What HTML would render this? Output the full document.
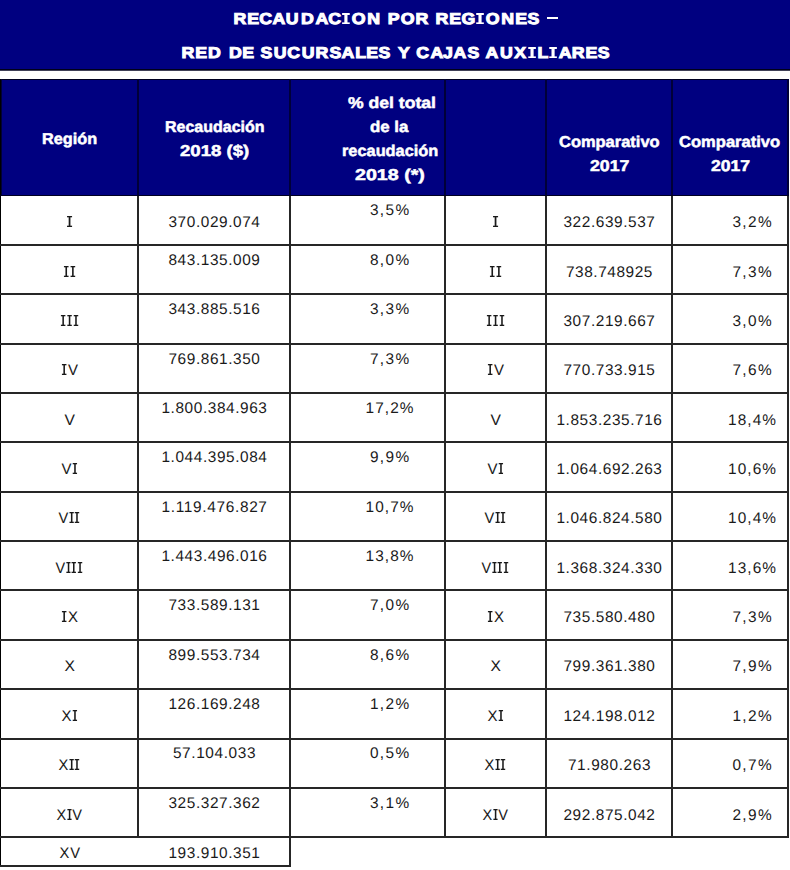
<!DOCTYPE html><html><head><meta charset="utf-8"><style>
html,body{margin:0;padding:0;background:#fff;width:790px;height:870px;overflow:hidden;position:relative;text-rendering:geometricPrecision}
.t{position:absolute;white-space:pre;transform-origin:0 0}.wb{-webkit-text-stroke:0.5px #fff}.wt{-webkit-text-stroke:1.0px #fff}
.L{position:absolute;background:#262626}
.hb{position:absolute;background:#000080}
.ri{display:inline-block;vertical-align:baseline;fill:#1a1a1a}.rv{display:inline-block;width:9.56px;text-align:center;font-weight:normal;transform:scaleX(0.9)}.tc{display:inline-block;text-align:center;transform:scaleX(1.12)}.ti{display:inline-block;vertical-align:baseline;fill:#fff}
</style></head><body>
<div class="hb" style="left:0;top:0;width:790px;height:69px"></div>
<div style="position:absolute;left:0;top:69px;width:790px;height:1px;background:#000018"></div>
<div style="position:absolute;left:0;top:70px;width:790px;height:1px;background:#404058"></div>
<div style="position:absolute;left:547px;top:17.4px;width:10.6px;height:1.8px;background:#fff"></div>
<div class="hb" style="left:0;top:79px;width:789px;height:116px"></div>
<div style="position:absolute;left:0;top:79px;width:789px;height:1px;background:#000022"></div>
<div class="L" style="left:137px;top:79px;width:2px;height:759.22px;background:#262626"></div>
<div class="L" style="left:289px;top:79px;width:2px;height:759.22px;background:#262626"></div>
<div class="L" style="left:444px;top:79px;width:2px;height:759.22px;background:#262626"></div>
<div class="L" style="left:545.3px;top:79px;width:2px;height:759.22px;background:#262626"></div>
<div class="L" style="left:670.8px;top:79px;width:2px;height:759.22px;background:#262626"></div>
<div class="L" style="left:787px;top:79px;width:2px;height:759.22px;background:#262626"></div>
<div style="position:absolute;left:0px;top:79px;width:2px;height:116px;background:#000038"></div>
<div style="position:absolute;left:137px;top:79px;width:2px;height:116px;background:#000038"></div>
<div style="position:absolute;left:289px;top:79px;width:2px;height:116px;background:#000038"></div>
<div style="position:absolute;left:444px;top:79px;width:2px;height:116px;background:#000038"></div>
<div style="position:absolute;left:545.3px;top:79px;width:2px;height:116px;background:#000038"></div>
<div style="position:absolute;left:670.8px;top:79px;width:2px;height:116px;background:#000038"></div>
<div style="position:absolute;left:787px;top:79px;width:2px;height:116px;background:#000038"></div>
<div class="L" style="left:0;top:79px;width:1px;height:788.3px;background:#000"></div>
<div style="position:absolute;left:0;top:195px;width:789px;height:1px;background:#000022"></div>
<div class="L" style="left:0;top:243.9px;width:789px;height:2px"></div>
<div class="L" style="left:0;top:293.26px;width:789px;height:2px"></div>
<div class="L" style="left:0;top:342.62px;width:789px;height:2px"></div>
<div class="L" style="left:0;top:391.98px;width:789px;height:2px"></div>
<div class="L" style="left:0;top:441.34px;width:789px;height:2px"></div>
<div class="L" style="left:0;top:490.7px;width:789px;height:2px"></div>
<div class="L" style="left:0;top:540.06px;width:789px;height:2px"></div>
<div class="L" style="left:0;top:589.42px;width:789px;height:2px"></div>
<div class="L" style="left:0;top:638.78px;width:789px;height:2px"></div>
<div class="L" style="left:0;top:688.14px;width:789px;height:2px"></div>
<div class="L" style="left:0;top:737.5px;width:789px;height:2px"></div>
<div class="L" style="left:0;top:786.86px;width:789px;height:2px"></div>
<div class="L" style="left:0;top:836.22px;width:789px;height:2px"></div>
<div class="L" style="left:289px;top:837.2199999999999px;width:2px;height:30.08px"></div>
<div class="L" style="left:0;top:865.3px;width:291px;height:2px"></div>
<div class="t wt" style="left:233.00px;top:11.90px;font-family:'Liberation Sans';font-weight:bold;font-size:15.8px;line-height:15.8px;color:#fff;letter-spacing:0.000px;transform:scale(1.0007,1.0000)"><b class="tc" style="width:13.654px">R</b><b class="tc" style="width:12.127px">E</b><b class="tc" style="width:13.050px">C</b><b class="tc" style="width:13.671px">A</b><b class="tc" style="width:14.417px">U</b><b class="tc" style="width:14.737px">D</b><b class="tc" style="width:13.671px">A</b><b class="tc" style="width:13.050px">C</b><b class="tc" style="width:9.694px"><svg class="ti" width="9.694" height="11.4" viewBox="0 0 9.694 11.4"><rect x="1.447" y="0" width="6.8" height="2.0"/><rect x="1.447" y="9.4" width="6.8" height="2.0"/><rect x="3.447" y="0" width="2.8" height="11.4"/></svg></b><b class="tc" style="width:15.092px">O</b><b class="tc" style="width:15.021px">N</b><b class="tc" style="width:6.072px"> </b><b class="tc" style="width:13.014px">P</b><b class="tc" style="width:15.092px">O</b><b class="tc" style="width:13.654px">R</b><b class="tc" style="width:6.072px"> </b><b class="tc" style="width:13.654px">R</b><b class="tc" style="width:12.127px">E</b><b class="tc" style="width:14.595px">G</b><b class="tc" style="width:9.694px"><svg class="ti" width="9.694" height="11.4" viewBox="0 0 9.694 11.4"><rect x="1.447" y="0" width="6.8" height="2.0"/><rect x="1.447" y="9.4" width="6.8" height="2.0"/><rect x="3.447" y="0" width="2.8" height="11.4"/></svg></b><b class="tc" style="width:15.092px">O</b><b class="tc" style="width:15.021px">N</b><b class="tc" style="width:12.127px">E</b><b class="tc" style="width:12.606px">S</b></div>
<div class="t wt" style="left:181.40px;top:46.00px;font-family:'Liberation Sans';font-weight:bold;font-size:15.8px;line-height:15.8px;color:#fff;letter-spacing:0.000px;transform:scale(1.0006,1.0000)"><b class="tc" style="width:13.654px">R</b><b class="tc" style="width:12.127px">E</b><b class="tc" style="width:14.737px">D</b><b class="tc" style="width:6.072px"> </b><b class="tc" style="width:14.737px">D</b><b class="tc" style="width:12.127px">E</b><b class="tc" style="width:6.072px"> </b><b class="tc" style="width:12.606px">S</b><b class="tc" style="width:14.417px">U</b><b class="tc" style="width:13.050px">C</b><b class="tc" style="width:14.417px">U</b><b class="tc" style="width:13.654px">R</b><b class="tc" style="width:12.606px">S</b><b class="tc" style="width:13.672px">A</b><b class="tc" style="width:11.292px">L</b><b class="tc" style="width:12.127px">E</b><b class="tc" style="width:12.606px">S</b><b class="tc" style="width:6.072px"> </b><b class="tc" style="width:13.512px">Y</b><b class="tc" style="width:6.072px"> </b><b class="tc" style="width:13.050px">C</b><b class="tc" style="width:13.672px">A</b><b class="tc" style="width:9.659px">J</b><b class="tc" style="width:13.672px">A</b><b class="tc" style="width:12.606px">S</b><b class="tc" style="width:6.072px"> </b><b class="tc" style="width:13.672px">A</b><b class="tc" style="width:14.417px">U</b><b class="tc" style="width:13.707px">X</b><b class="tc" style="width:9.694px"><svg class="ti" width="9.694" height="11.4" viewBox="0 0 9.694 11.4"><rect x="1.447" y="0" width="6.8" height="2.0"/><rect x="1.447" y="9.4" width="6.8" height="2.0"/><rect x="3.447" y="0" width="2.8" height="11.4"/></svg></b><b class="tc" style="width:11.292px">L</b><b class="tc" style="width:9.694px"><svg class="ti" width="9.694" height="11.4" viewBox="0 0 9.694 11.4"><rect x="1.447" y="0" width="6.8" height="2.0"/><rect x="1.447" y="9.4" width="6.8" height="2.0"/><rect x="3.447" y="0" width="2.8" height="11.4"/></svg></b><b class="tc" style="width:13.672px">A</b><b class="tc" style="width:13.654px">R</b><b class="tc" style="width:12.127px">E</b><b class="tc" style="width:12.606px">S</b></div>
<div class="t wb" style="left:42.20px;top:132.30px;font-family:'Liberation Sans';font-weight:bold;font-size:15.6px;line-height:15.6px;color:#fff;letter-spacing:0.000px;transform:scale(1.0427,1.0000)">Región</div>
<div class="t wb" style="left:164.90px;top:119.60px;font-family:'Liberation Sans';font-weight:bold;font-size:15.6px;line-height:15.6px;color:#fff;letter-spacing:0.000px;transform:scale(1.0251,1.0000)">Recaudación</div>
<div class="t wb" style="left:180.00px;top:143.60px;font-family:'Liberation Sans';font-weight:bold;font-size:15.6px;line-height:15.6px;color:#fff;letter-spacing:0.000px;transform:scale(1.1912,1.0000)">2018 ($)</div>
<div class="t wb" style="left:348.00px;top:95.70px;font-family:'Liberation Sans';font-weight:bold;font-size:15.6px;line-height:15.6px;color:#fff;letter-spacing:0.000px;transform:scale(1.1284,1.0000)">% del total</div>
<div class="t wb" style="left:370.30px;top:119.90px;font-family:'Liberation Sans';font-weight:bold;font-size:15.6px;line-height:15.6px;color:#fff;letter-spacing:0.000px;transform:scale(1.0803,1.0000)">de la</div>
<div class="t wb" style="left:341.50px;top:144.10px;font-family:'Liberation Sans';font-weight:bold;font-size:15.6px;line-height:15.6px;color:#fff;letter-spacing:0.000px;transform:scale(1.0482,1.0000)">recaudación</div>
<div class="t wb" style="left:354.70px;top:168.40px;font-family:'Liberation Sans';font-weight:bold;font-size:15.6px;line-height:15.6px;color:#fff;letter-spacing:0.000px;transform:scale(1.2598,1.0000)">2018 (*)</div>
<div class="t wb" style="left:559.10px;top:135.00px;font-family:'Liberation Sans';font-weight:bold;font-size:15.6px;line-height:15.6px;color:#fff;letter-spacing:0.000px;transform:scale(1.0553,1.0000)">Comparativo</div>
<div class="t wb" style="left:589.80px;top:158.60px;font-family:'Liberation Sans';font-weight:bold;font-size:15.6px;line-height:15.6px;color:#fff;letter-spacing:0.000px;transform:scale(1.1382,1.0000)">2017</div>
<div class="t wb" style="left:679.40px;top:135.00px;font-family:'Liberation Sans';font-weight:bold;font-size:15.6px;line-height:15.6px;color:#fff;letter-spacing:0.000px;transform:scale(1.0616,1.0000)">Comparativo</div>
<div class="t wb" style="left:710.70px;top:158.60px;font-family:'Liberation Sans';font-weight:bold;font-size:15.6px;line-height:15.6px;color:#fff;letter-spacing:0.000px;transform:scale(1.1267,1.0000)">2017</div>
<div class="t" style="left:65.75px;top:215.00px;font-family:'Liberation Sans';font-weight:normal;font-size:15.4px;line-height:15.4px;color:#1a1a1a;letter-spacing:0.000px;transform:scale(1.2052,1.0000)"><svg class="ri" width="5.9" height="11.0" viewBox="0 0 5.9 11.0"><rect x="0.85" y="0" width="4.2" height="1.3"/><rect x="0.85" y="9.7" width="4.2" height="1.3"/><rect x="2.225" y="0" width="1.45" height="11.0"/></svg></div>
<div class="t" style="left:168.46px;top:215.00px;font-family:'Liberation Sans';font-weight:normal;font-size:15.4px;line-height:15.4px;color:#1a1a1a;letter-spacing:0.589px;transform:scale(1.0000,1.0000)">370.029.074</div>
<div class="t" style="left:369.92px;top:203.00px;font-family:'Liberation Sans';font-weight:normal;font-size:15.4px;line-height:15.4px;color:#1a1a1a;letter-spacing:1.358px;transform:scale(1.0000,1.0000)">3,5%</div>
<div class="t" style="left:492.05px;top:215.00px;font-family:'Liberation Sans';font-weight:normal;font-size:15.4px;line-height:15.4px;color:#1a1a1a;letter-spacing:0.000px;transform:scale(1.2052,1.0000)"><svg class="ri" width="5.9" height="11.0" viewBox="0 0 5.9 11.0"><rect x="0.85" y="0" width="4.2" height="1.3"/><rect x="0.85" y="9.7" width="4.2" height="1.3"/><rect x="2.225" y="0" width="1.45" height="11.0"/></svg></div>
<div class="t" style="left:563.46px;top:215.00px;font-family:'Liberation Sans';font-weight:normal;font-size:15.4px;line-height:15.4px;color:#1a1a1a;letter-spacing:0.589px;transform:scale(1.0000,1.0000)">322.639.537</div>
<div class="t" style="left:732.42px;top:215.00px;font-family:'Liberation Sans';font-weight:normal;font-size:15.4px;line-height:15.4px;color:#1a1a1a;letter-spacing:1.358px;transform:scale(1.0000,1.0000)">3,2%</div>
<div class="t" style="left:62.80px;top:264.58px;font-family:'Liberation Sans';font-weight:normal;font-size:15.4px;line-height:15.4px;color:#1a1a1a;letter-spacing:0.000px;transform:scale(1.1034,1.0000)"><svg class="ri" width="5.9" height="11.0" viewBox="0 0 5.9 11.0"><rect x="0.85" y="0" width="4.2" height="1.3"/><rect x="0.85" y="9.7" width="4.2" height="1.3"/><rect x="2.225" y="0" width="1.45" height="11.0"/></svg><svg class="ri" width="5.9" height="11.0" viewBox="0 0 5.9 11.0"><rect x="0.85" y="0" width="4.2" height="1.3"/><rect x="0.85" y="9.7" width="4.2" height="1.3"/><rect x="2.225" y="0" width="1.45" height="11.0"/></svg></div>
<div class="t" style="left:168.46px;top:252.80px;font-family:'Liberation Sans';font-weight:normal;font-size:15.4px;line-height:15.4px;color:#1a1a1a;letter-spacing:0.589px;transform:scale(1.0000,1.0000)">843.135.009</div>
<div class="t" style="left:369.92px;top:252.80px;font-family:'Liberation Sans';font-weight:normal;font-size:15.4px;line-height:15.4px;color:#1a1a1a;letter-spacing:1.358px;transform:scale(1.0000,1.0000)">8,0%</div>
<div class="t" style="left:489.10px;top:264.58px;font-family:'Liberation Sans';font-weight:normal;font-size:15.4px;line-height:15.4px;color:#1a1a1a;letter-spacing:0.000px;transform:scale(1.1034,1.0000)"><svg class="ri" width="5.9" height="11.0" viewBox="0 0 5.9 11.0"><rect x="0.85" y="0" width="4.2" height="1.3"/><rect x="0.85" y="9.7" width="4.2" height="1.3"/><rect x="2.225" y="0" width="1.45" height="11.0"/></svg><svg class="ri" width="5.9" height="11.0" viewBox="0 0 5.9 11.0"><rect x="0.85" y="0" width="4.2" height="1.3"/><rect x="0.85" y="9.7" width="4.2" height="1.3"/><rect x="2.225" y="0" width="1.45" height="11.0"/></svg></div>
<div class="t" style="left:566.00px;top:264.58px;font-family:'Liberation Sans';font-weight:normal;font-size:15.4px;line-height:15.4px;color:#1a1a1a;letter-spacing:0.564px;transform:scale(1.0000,1.0000)">738.748925</div>
<div class="t" style="left:732.42px;top:264.58px;font-family:'Liberation Sans';font-weight:normal;font-size:15.4px;line-height:15.4px;color:#1a1a1a;letter-spacing:1.358px;transform:scale(1.0000,1.0000)">7,3%</div>
<div class="t" style="left:59.85px;top:313.94px;font-family:'Liberation Sans';font-weight:normal;font-size:15.4px;line-height:15.4px;color:#1a1a1a;letter-spacing:0.000px;transform:scale(1.0694,1.0000)"><svg class="ri" width="5.9" height="11.0" viewBox="0 0 5.9 11.0"><rect x="0.85" y="0" width="4.2" height="1.3"/><rect x="0.85" y="9.7" width="4.2" height="1.3"/><rect x="2.225" y="0" width="1.45" height="11.0"/></svg><svg class="ri" width="5.9" height="11.0" viewBox="0 0 5.9 11.0"><rect x="0.85" y="0" width="4.2" height="1.3"/><rect x="0.85" y="9.7" width="4.2" height="1.3"/><rect x="2.225" y="0" width="1.45" height="11.0"/></svg><svg class="ri" width="5.9" height="11.0" viewBox="0 0 5.9 11.0"><rect x="0.85" y="0" width="4.2" height="1.3"/><rect x="0.85" y="9.7" width="4.2" height="1.3"/><rect x="2.225" y="0" width="1.45" height="11.0"/></svg></div>
<div class="t" style="left:168.46px;top:302.16px;font-family:'Liberation Sans';font-weight:normal;font-size:15.4px;line-height:15.4px;color:#1a1a1a;letter-spacing:0.589px;transform:scale(1.0000,1.0000)">343.885.516</div>
<div class="t" style="left:369.92px;top:302.16px;font-family:'Liberation Sans';font-weight:normal;font-size:15.4px;line-height:15.4px;color:#1a1a1a;letter-spacing:1.358px;transform:scale(1.0000,1.0000)">3,3%</div>
<div class="t" style="left:486.15px;top:313.94px;font-family:'Liberation Sans';font-weight:normal;font-size:15.4px;line-height:15.4px;color:#1a1a1a;letter-spacing:0.000px;transform:scale(1.0694,1.0000)"><svg class="ri" width="5.9" height="11.0" viewBox="0 0 5.9 11.0"><rect x="0.85" y="0" width="4.2" height="1.3"/><rect x="0.85" y="9.7" width="4.2" height="1.3"/><rect x="2.225" y="0" width="1.45" height="11.0"/></svg><svg class="ri" width="5.9" height="11.0" viewBox="0 0 5.9 11.0"><rect x="0.85" y="0" width="4.2" height="1.3"/><rect x="0.85" y="9.7" width="4.2" height="1.3"/><rect x="2.225" y="0" width="1.45" height="11.0"/></svg><svg class="ri" width="5.9" height="11.0" viewBox="0 0 5.9 11.0"><rect x="0.85" y="0" width="4.2" height="1.3"/><rect x="0.85" y="9.7" width="4.2" height="1.3"/><rect x="2.225" y="0" width="1.45" height="11.0"/></svg></div>
<div class="t" style="left:563.46px;top:313.94px;font-family:'Liberation Sans';font-weight:normal;font-size:15.4px;line-height:15.4px;color:#1a1a1a;letter-spacing:0.589px;transform:scale(1.0000,1.0000)">307.219.667</div>
<div class="t" style="left:732.42px;top:313.94px;font-family:'Liberation Sans';font-weight:normal;font-size:15.4px;line-height:15.4px;color:#1a1a1a;letter-spacing:1.358px;transform:scale(1.0000,1.0000)">3,0%</div>
<div class="t" style="left:60.97px;top:363.30px;font-family:'Liberation Sans';font-weight:normal;font-size:15.4px;line-height:15.4px;color:#1a1a1a;letter-spacing:0.000px;transform:scale(1.0794,1.0000)"><svg class="ri" width="5.9" height="11.0" viewBox="0 0 5.9 11.0"><rect x="0.85" y="0" width="4.2" height="1.3"/><rect x="0.85" y="9.7" width="4.2" height="1.3"/><rect x="2.225" y="0" width="1.45" height="11.0"/></svg><b class="rv">V</b></div>
<div class="t" style="left:168.46px;top:351.52px;font-family:'Liberation Sans';font-weight:normal;font-size:15.4px;line-height:15.4px;color:#1a1a1a;letter-spacing:0.589px;transform:scale(1.0000,1.0000)">769.861.350</div>
<div class="t" style="left:369.92px;top:351.52px;font-family:'Liberation Sans';font-weight:normal;font-size:15.4px;line-height:15.4px;color:#1a1a1a;letter-spacing:1.358px;transform:scale(1.0000,1.0000)">7,3%</div>
<div class="t" style="left:487.27px;top:363.30px;font-family:'Liberation Sans';font-weight:normal;font-size:15.4px;line-height:15.4px;color:#1a1a1a;letter-spacing:0.000px;transform:scale(1.0794,1.0000)"><svg class="ri" width="5.9" height="11.0" viewBox="0 0 5.9 11.0"><rect x="0.85" y="0" width="4.2" height="1.3"/><rect x="0.85" y="9.7" width="4.2" height="1.3"/><rect x="2.225" y="0" width="1.45" height="11.0"/></svg><b class="rv">V</b></div>
<div class="t" style="left:563.46px;top:363.30px;font-family:'Liberation Sans';font-weight:normal;font-size:15.4px;line-height:15.4px;color:#1a1a1a;letter-spacing:0.589px;transform:scale(1.0000,1.0000)">770.733.915</div>
<div class="t" style="left:732.42px;top:363.30px;font-family:'Liberation Sans';font-weight:normal;font-size:15.4px;line-height:15.4px;color:#1a1a1a;letter-spacing:1.358px;transform:scale(1.0000,1.0000)">7,6%</div>
<div class="t" style="left:63.92px;top:412.66px;font-family:'Liberation Sans';font-weight:normal;font-size:15.4px;line-height:15.4px;color:#1a1a1a;letter-spacing:0.000px;transform:scale(1.1274,1.0000)"><b class="rv">V</b></div>
<div class="t" style="left:161.46px;top:400.88px;font-family:'Liberation Sans';font-weight:normal;font-size:15.4px;line-height:15.4px;color:#1a1a1a;letter-spacing:0.587px;transform:scale(1.0000,1.0000)">1.800.384.963</div>
<div class="t" style="left:365.47px;top:400.88px;font-family:'Liberation Sans';font-weight:normal;font-size:15.4px;line-height:15.4px;color:#1a1a1a;letter-spacing:1.106px;transform:scale(1.0000,1.0000)">17,2%</div>
<div class="t" style="left:490.22px;top:412.66px;font-family:'Liberation Sans';font-weight:normal;font-size:15.4px;line-height:15.4px;color:#1a1a1a;letter-spacing:0.000px;transform:scale(1.1274,1.0000)"><b class="rv">V</b></div>
<div class="t" style="left:556.46px;top:412.66px;font-family:'Liberation Sans';font-weight:normal;font-size:15.4px;line-height:15.4px;color:#1a1a1a;letter-spacing:0.587px;transform:scale(1.0000,1.0000)">1.853.235.716</div>
<div class="t" style="left:727.97px;top:412.66px;font-family:'Liberation Sans';font-weight:normal;font-size:15.4px;line-height:15.4px;color:#1a1a1a;letter-spacing:1.106px;transform:scale(1.0000,1.0000)">18,4%</div>
<div class="t" style="left:60.97px;top:462.02px;font-family:'Liberation Sans';font-weight:normal;font-size:15.4px;line-height:15.4px;color:#1a1a1a;letter-spacing:0.000px;transform:scale(1.0794,1.0000)"><b class="rv">V</b><svg class="ri" width="5.9" height="11.0" viewBox="0 0 5.9 11.0"><rect x="0.85" y="0" width="4.2" height="1.3"/><rect x="0.85" y="9.7" width="4.2" height="1.3"/><rect x="2.225" y="0" width="1.45" height="11.0"/></svg></div>
<div class="t" style="left:161.46px;top:450.24px;font-family:'Liberation Sans';font-weight:normal;font-size:15.4px;line-height:15.4px;color:#1a1a1a;letter-spacing:0.587px;transform:scale(1.0000,1.0000)">1.044.395.084</div>
<div class="t" style="left:369.92px;top:450.24px;font-family:'Liberation Sans';font-weight:normal;font-size:15.4px;line-height:15.4px;color:#1a1a1a;letter-spacing:1.358px;transform:scale(1.0000,1.0000)">9,9%</div>
<div class="t" style="left:487.27px;top:462.02px;font-family:'Liberation Sans';font-weight:normal;font-size:15.4px;line-height:15.4px;color:#1a1a1a;letter-spacing:0.000px;transform:scale(1.0794,1.0000)"><b class="rv">V</b><svg class="ri" width="5.9" height="11.0" viewBox="0 0 5.9 11.0"><rect x="0.85" y="0" width="4.2" height="1.3"/><rect x="0.85" y="9.7" width="4.2" height="1.3"/><rect x="2.225" y="0" width="1.45" height="11.0"/></svg></div>
<div class="t" style="left:556.46px;top:462.02px;font-family:'Liberation Sans';font-weight:normal;font-size:15.4px;line-height:15.4px;color:#1a1a1a;letter-spacing:0.587px;transform:scale(1.0000,1.0000)">1.064.692.263</div>
<div class="t" style="left:727.97px;top:462.02px;font-family:'Liberation Sans';font-weight:normal;font-size:15.4px;line-height:15.4px;color:#1a1a1a;letter-spacing:1.106px;transform:scale(1.0000,1.0000)">10,6%</div>
<div class="t" style="left:58.02px;top:511.38px;font-family:'Liberation Sans';font-weight:normal;font-size:15.4px;line-height:15.4px;color:#1a1a1a;letter-spacing:0.000px;transform:scale(1.0579,1.0000)"><b class="rv">V</b><svg class="ri" width="5.9" height="11.0" viewBox="0 0 5.9 11.0"><rect x="0.85" y="0" width="4.2" height="1.3"/><rect x="0.85" y="9.7" width="4.2" height="1.3"/><rect x="2.225" y="0" width="1.45" height="11.0"/></svg><svg class="ri" width="5.9" height="11.0" viewBox="0 0 5.9 11.0"><rect x="0.85" y="0" width="4.2" height="1.3"/><rect x="0.85" y="9.7" width="4.2" height="1.3"/><rect x="2.225" y="0" width="1.45" height="11.0"/></svg></div>
<div class="t" style="left:161.46px;top:499.60px;font-family:'Liberation Sans';font-weight:normal;font-size:15.4px;line-height:15.4px;color:#1a1a1a;letter-spacing:0.683px;transform:scale(1.0000,1.0000)">1.119.476.827</div>
<div class="t" style="left:365.47px;top:499.60px;font-family:'Liberation Sans';font-weight:normal;font-size:15.4px;line-height:15.4px;color:#1a1a1a;letter-spacing:1.106px;transform:scale(1.0000,1.0000)">10,7%</div>
<div class="t" style="left:484.32px;top:511.38px;font-family:'Liberation Sans';font-weight:normal;font-size:15.4px;line-height:15.4px;color:#1a1a1a;letter-spacing:0.000px;transform:scale(1.0579,1.0000)"><b class="rv">V</b><svg class="ri" width="5.9" height="11.0" viewBox="0 0 5.9 11.0"><rect x="0.85" y="0" width="4.2" height="1.3"/><rect x="0.85" y="9.7" width="4.2" height="1.3"/><rect x="2.225" y="0" width="1.45" height="11.0"/></svg><svg class="ri" width="5.9" height="11.0" viewBox="0 0 5.9 11.0"><rect x="0.85" y="0" width="4.2" height="1.3"/><rect x="0.85" y="9.7" width="4.2" height="1.3"/><rect x="2.225" y="0" width="1.45" height="11.0"/></svg></div>
<div class="t" style="left:556.46px;top:511.38px;font-family:'Liberation Sans';font-weight:normal;font-size:15.4px;line-height:15.4px;color:#1a1a1a;letter-spacing:0.587px;transform:scale(1.0000,1.0000)">1.046.824.580</div>
<div class="t" style="left:727.97px;top:511.38px;font-family:'Liberation Sans';font-weight:normal;font-size:15.4px;line-height:15.4px;color:#1a1a1a;letter-spacing:1.106px;transform:scale(1.0000,1.0000)">10,4%</div>
<div class="t" style="left:55.07px;top:560.74px;font-family:'Liberation Sans';font-weight:normal;font-size:15.4px;line-height:15.4px;color:#1a1a1a;letter-spacing:0.000px;transform:scale(1.0457,1.0000)"><b class="rv">V</b><svg class="ri" width="5.9" height="11.0" viewBox="0 0 5.9 11.0"><rect x="0.85" y="0" width="4.2" height="1.3"/><rect x="0.85" y="9.7" width="4.2" height="1.3"/><rect x="2.225" y="0" width="1.45" height="11.0"/></svg><svg class="ri" width="5.9" height="11.0" viewBox="0 0 5.9 11.0"><rect x="0.85" y="0" width="4.2" height="1.3"/><rect x="0.85" y="9.7" width="4.2" height="1.3"/><rect x="2.225" y="0" width="1.45" height="11.0"/></svg><svg class="ri" width="5.9" height="11.0" viewBox="0 0 5.9 11.0"><rect x="0.85" y="0" width="4.2" height="1.3"/><rect x="0.85" y="9.7" width="4.2" height="1.3"/><rect x="2.225" y="0" width="1.45" height="11.0"/></svg></div>
<div class="t" style="left:161.46px;top:548.96px;font-family:'Liberation Sans';font-weight:normal;font-size:15.4px;line-height:15.4px;color:#1a1a1a;letter-spacing:0.587px;transform:scale(1.0000,1.0000)">1.443.496.016</div>
<div class="t" style="left:365.47px;top:548.96px;font-family:'Liberation Sans';font-weight:normal;font-size:15.4px;line-height:15.4px;color:#1a1a1a;letter-spacing:1.106px;transform:scale(1.0000,1.0000)">13,8%</div>
<div class="t" style="left:481.37px;top:560.74px;font-family:'Liberation Sans';font-weight:normal;font-size:15.4px;line-height:15.4px;color:#1a1a1a;letter-spacing:0.000px;transform:scale(1.0457,1.0000)"><b class="rv">V</b><svg class="ri" width="5.9" height="11.0" viewBox="0 0 5.9 11.0"><rect x="0.85" y="0" width="4.2" height="1.3"/><rect x="0.85" y="9.7" width="4.2" height="1.3"/><rect x="2.225" y="0" width="1.45" height="11.0"/></svg><svg class="ri" width="5.9" height="11.0" viewBox="0 0 5.9 11.0"><rect x="0.85" y="0" width="4.2" height="1.3"/><rect x="0.85" y="9.7" width="4.2" height="1.3"/><rect x="2.225" y="0" width="1.45" height="11.0"/></svg><svg class="ri" width="5.9" height="11.0" viewBox="0 0 5.9 11.0"><rect x="0.85" y="0" width="4.2" height="1.3"/><rect x="0.85" y="9.7" width="4.2" height="1.3"/><rect x="2.225" y="0" width="1.45" height="11.0"/></svg></div>
<div class="t" style="left:556.46px;top:560.74px;font-family:'Liberation Sans';font-weight:normal;font-size:15.4px;line-height:15.4px;color:#1a1a1a;letter-spacing:0.587px;transform:scale(1.0000,1.0000)">1.368.324.330</div>
<div class="t" style="left:727.97px;top:560.74px;font-family:'Liberation Sans';font-weight:normal;font-size:15.4px;line-height:15.4px;color:#1a1a1a;letter-spacing:1.106px;transform:scale(1.0000,1.0000)">13,6%</div>
<div class="t" style="left:60.97px;top:610.10px;font-family:'Liberation Sans';font-weight:normal;font-size:15.4px;line-height:15.4px;color:#1a1a1a;letter-spacing:0.000px;transform:scale(1.0794,1.0000)"><svg class="ri" width="5.9" height="11.0" viewBox="0 0 5.9 11.0"><rect x="0.85" y="0" width="4.2" height="1.3"/><rect x="0.85" y="9.7" width="4.2" height="1.3"/><rect x="2.225" y="0" width="1.45" height="11.0"/></svg><b class="rv">X</b></div>
<div class="t" style="left:168.46px;top:598.32px;font-family:'Liberation Sans';font-weight:normal;font-size:15.4px;line-height:15.4px;color:#1a1a1a;letter-spacing:0.589px;transform:scale(1.0000,1.0000)">733.589.131</div>
<div class="t" style="left:369.92px;top:598.32px;font-family:'Liberation Sans';font-weight:normal;font-size:15.4px;line-height:15.4px;color:#1a1a1a;letter-spacing:1.358px;transform:scale(1.0000,1.0000)">7,0%</div>
<div class="t" style="left:487.27px;top:610.10px;font-family:'Liberation Sans';font-weight:normal;font-size:15.4px;line-height:15.4px;color:#1a1a1a;letter-spacing:0.000px;transform:scale(1.0794,1.0000)"><svg class="ri" width="5.9" height="11.0" viewBox="0 0 5.9 11.0"><rect x="0.85" y="0" width="4.2" height="1.3"/><rect x="0.85" y="9.7" width="4.2" height="1.3"/><rect x="2.225" y="0" width="1.45" height="11.0"/></svg><b class="rv">X</b></div>
<div class="t" style="left:563.46px;top:610.10px;font-family:'Liberation Sans';font-weight:normal;font-size:15.4px;line-height:15.4px;color:#1a1a1a;letter-spacing:0.589px;transform:scale(1.0000,1.0000)">735.580.480</div>
<div class="t" style="left:732.42px;top:610.10px;font-family:'Liberation Sans';font-weight:normal;font-size:15.4px;line-height:15.4px;color:#1a1a1a;letter-spacing:1.358px;transform:scale(1.0000,1.0000)">7,3%</div>
<div class="t" style="left:63.92px;top:659.46px;font-family:'Liberation Sans';font-weight:normal;font-size:15.4px;line-height:15.4px;color:#1a1a1a;letter-spacing:0.000px;transform:scale(1.1274,1.0000)"><b class="rv">X</b></div>
<div class="t" style="left:168.46px;top:647.68px;font-family:'Liberation Sans';font-weight:normal;font-size:15.4px;line-height:15.4px;color:#1a1a1a;letter-spacing:0.589px;transform:scale(1.0000,1.0000)">899.553.734</div>
<div class="t" style="left:369.92px;top:647.68px;font-family:'Liberation Sans';font-weight:normal;font-size:15.4px;line-height:15.4px;color:#1a1a1a;letter-spacing:1.358px;transform:scale(1.0000,1.0000)">8,6%</div>
<div class="t" style="left:490.22px;top:659.46px;font-family:'Liberation Sans';font-weight:normal;font-size:15.4px;line-height:15.4px;color:#1a1a1a;letter-spacing:0.000px;transform:scale(1.1274,1.0000)"><b class="rv">X</b></div>
<div class="t" style="left:563.46px;top:659.46px;font-family:'Liberation Sans';font-weight:normal;font-size:15.4px;line-height:15.4px;color:#1a1a1a;letter-spacing:0.589px;transform:scale(1.0000,1.0000)">799.361.380</div>
<div class="t" style="left:732.42px;top:659.46px;font-family:'Liberation Sans';font-weight:normal;font-size:15.4px;line-height:15.4px;color:#1a1a1a;letter-spacing:1.358px;transform:scale(1.0000,1.0000)">7,9%</div>
<div class="t" style="left:60.97px;top:708.82px;font-family:'Liberation Sans';font-weight:normal;font-size:15.4px;line-height:15.4px;color:#1a1a1a;letter-spacing:0.000px;transform:scale(1.0794,1.0000)"><b class="rv">X</b><svg class="ri" width="5.9" height="11.0" viewBox="0 0 5.9 11.0"><rect x="0.85" y="0" width="4.2" height="1.3"/><rect x="0.85" y="9.7" width="4.2" height="1.3"/><rect x="2.225" y="0" width="1.45" height="11.0"/></svg></div>
<div class="t" style="left:168.46px;top:697.04px;font-family:'Liberation Sans';font-weight:normal;font-size:15.4px;line-height:15.4px;color:#1a1a1a;letter-spacing:0.589px;transform:scale(1.0000,1.0000)">126.169.248</div>
<div class="t" style="left:369.92px;top:697.04px;font-family:'Liberation Sans';font-weight:normal;font-size:15.4px;line-height:15.4px;color:#1a1a1a;letter-spacing:1.358px;transform:scale(1.0000,1.0000)">1,2%</div>
<div class="t" style="left:487.27px;top:708.82px;font-family:'Liberation Sans';font-weight:normal;font-size:15.4px;line-height:15.4px;color:#1a1a1a;letter-spacing:0.000px;transform:scale(1.0794,1.0000)"><b class="rv">X</b><svg class="ri" width="5.9" height="11.0" viewBox="0 0 5.9 11.0"><rect x="0.85" y="0" width="4.2" height="1.3"/><rect x="0.85" y="9.7" width="4.2" height="1.3"/><rect x="2.225" y="0" width="1.45" height="11.0"/></svg></div>
<div class="t" style="left:563.46px;top:708.82px;font-family:'Liberation Sans';font-weight:normal;font-size:15.4px;line-height:15.4px;color:#1a1a1a;letter-spacing:0.589px;transform:scale(1.0000,1.0000)">124.198.012</div>
<div class="t" style="left:732.42px;top:708.82px;font-family:'Liberation Sans';font-weight:normal;font-size:15.4px;line-height:15.4px;color:#1a1a1a;letter-spacing:1.358px;transform:scale(1.0000,1.0000)">1,2%</div>
<div class="t" style="left:58.02px;top:758.18px;font-family:'Liberation Sans';font-weight:normal;font-size:15.4px;line-height:15.4px;color:#1a1a1a;letter-spacing:0.000px;transform:scale(1.0579,1.0000)"><b class="rv">X</b><svg class="ri" width="5.9" height="11.0" viewBox="0 0 5.9 11.0"><rect x="0.85" y="0" width="4.2" height="1.3"/><rect x="0.85" y="9.7" width="4.2" height="1.3"/><rect x="2.225" y="0" width="1.45" height="11.0"/></svg><svg class="ri" width="5.9" height="11.0" viewBox="0 0 5.9 11.0"><rect x="0.85" y="0" width="4.2" height="1.3"/><rect x="0.85" y="9.7" width="4.2" height="1.3"/><rect x="2.225" y="0" width="1.45" height="11.0"/></svg></div>
<div class="t" style="left:172.91px;top:746.40px;font-family:'Liberation Sans';font-weight:normal;font-size:15.4px;line-height:15.4px;color:#1a1a1a;letter-spacing:0.617px;transform:scale(1.0000,1.0000)">57.104.033</div>
<div class="t" style="left:369.92px;top:746.40px;font-family:'Liberation Sans';font-weight:normal;font-size:15.4px;line-height:15.4px;color:#1a1a1a;letter-spacing:1.358px;transform:scale(1.0000,1.0000)">0,5%</div>
<div class="t" style="left:484.32px;top:758.18px;font-family:'Liberation Sans';font-weight:normal;font-size:15.4px;line-height:15.4px;color:#1a1a1a;letter-spacing:0.000px;transform:scale(1.0579,1.0000)"><b class="rv">X</b><svg class="ri" width="5.9" height="11.0" viewBox="0 0 5.9 11.0"><rect x="0.85" y="0" width="4.2" height="1.3"/><rect x="0.85" y="9.7" width="4.2" height="1.3"/><rect x="2.225" y="0" width="1.45" height="11.0"/></svg><svg class="ri" width="5.9" height="11.0" viewBox="0 0 5.9 11.0"><rect x="0.85" y="0" width="4.2" height="1.3"/><rect x="0.85" y="9.7" width="4.2" height="1.3"/><rect x="2.225" y="0" width="1.45" height="11.0"/></svg></div>
<div class="t" style="left:567.91px;top:758.18px;font-family:'Liberation Sans';font-weight:normal;font-size:15.4px;line-height:15.4px;color:#1a1a1a;letter-spacing:0.617px;transform:scale(1.0000,1.0000)">71.980.263</div>
<div class="t" style="left:732.42px;top:758.18px;font-family:'Liberation Sans';font-weight:normal;font-size:15.4px;line-height:15.4px;color:#1a1a1a;letter-spacing:1.358px;transform:scale(1.0000,1.0000)">0,7%</div>
<div class="t" style="left:56.19px;top:807.54px;font-family:'Liberation Sans';font-weight:normal;font-size:15.4px;line-height:15.4px;color:#1a1a1a;letter-spacing:0.000px;transform:scale(1.0497,1.0000)"><b class="rv">X</b><svg class="ri" width="5.9" height="11.0" viewBox="0 0 5.9 11.0"><rect x="0.85" y="0" width="4.2" height="1.3"/><rect x="0.85" y="9.7" width="4.2" height="1.3"/><rect x="2.225" y="0" width="1.45" height="11.0"/></svg><b class="rv">V</b></div>
<div class="t" style="left:168.46px;top:795.76px;font-family:'Liberation Sans';font-weight:normal;font-size:15.4px;line-height:15.4px;color:#1a1a1a;letter-spacing:0.589px;transform:scale(1.0000,1.0000)">325.327.362</div>
<div class="t" style="left:369.92px;top:795.76px;font-family:'Liberation Sans';font-weight:normal;font-size:15.4px;line-height:15.4px;color:#1a1a1a;letter-spacing:1.358px;transform:scale(1.0000,1.0000)">3,1%</div>
<div class="t" style="left:482.49px;top:807.54px;font-family:'Liberation Sans';font-weight:normal;font-size:15.4px;line-height:15.4px;color:#1a1a1a;letter-spacing:0.000px;transform:scale(1.0497,1.0000)"><b class="rv">X</b><svg class="ri" width="5.9" height="11.0" viewBox="0 0 5.9 11.0"><rect x="0.85" y="0" width="4.2" height="1.3"/><rect x="0.85" y="9.7" width="4.2" height="1.3"/><rect x="2.225" y="0" width="1.45" height="11.0"/></svg><b class="rv">V</b></div>
<div class="t" style="left:563.46px;top:807.54px;font-family:'Liberation Sans';font-weight:normal;font-size:15.4px;line-height:15.4px;color:#1a1a1a;letter-spacing:0.589px;transform:scale(1.0000,1.0000)">292.875.042</div>
<div class="t" style="left:732.42px;top:807.54px;font-family:'Liberation Sans';font-weight:normal;font-size:15.4px;line-height:15.4px;color:#1a1a1a;letter-spacing:1.358px;transform:scale(1.0000,1.0000)">2,9%</div>
<div class="t" style="left:59.14px;top:845.96px;font-family:'Liberation Sans';font-weight:normal;font-size:15.4px;line-height:15.4px;color:#1a1a1a;letter-spacing:0.000px;transform:scale(1.0646,1.0000)"><b class="rv">X</b><b class="rv">V</b></div>
<div class="t" style="left:168.46px;top:845.96px;font-family:'Liberation Sans';font-weight:normal;font-size:15.4px;line-height:15.4px;color:#1a1a1a;letter-spacing:0.589px;transform:scale(1.0000,1.0000)">193.910.351</div>
</body></html>
